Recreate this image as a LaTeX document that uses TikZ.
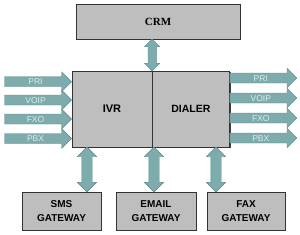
\documentclass[tikz,border=0pt]{standalone}
\usepackage{fontspec}
\setmainfont{Liberation Serif}
\setsansfont{Liberation Sans}
\usepackage{tikz}
\usepackage{xcolor}
\usetikzlibrary{shapes.arrows, shadows, positioning}

\definecolor{boxgrey}{RGB}{190,190,190}
\definecolor{pipeteal}{RGB}{126,172,172}
\definecolor{pipeedge}{RGB}{92,138,138}
\definecolor{pipetext}{RGB}{222,234,234}

\begin{document}
\begin{tikzpicture}[x=1pt, y=-1pt]
\tikzstyle{block} = [rectangle, draw=black!80, fill=boxgrey, inner sep=0pt, drop shadow={shadow xshift=1.2pt, shadow yshift=-1.2pt, fill=black!75, opacity=1}]
\tikzstyle{lineflow} = [single arrow, draw=pipeedge, fill=pipeteal, text=pipetext, font=\sffamily\fontsize{8.5}{8.5}\selectfont, text height=6pt, text depth=0pt, inner ysep=1.8pt, inner xsep=0pt, single arrow head extend=4.8pt, minimum height=67pt]
\tikzstyle{link} = [double arrow, draw=pipeedge, fill=pipeteal, rotate=90, inner sep=0pt, text height=0pt, text depth=0pt]

\useasboundingbox (0,0) rectangle (300,234);

\node [block, minimum width=164pt, minimum height=35pt, font=\rmfamily\bfseries\fontsize{11}{11}\selectfont] (crm) at (158,21.5) {CRM};
\node [block, minimum width=80pt, minimum height=76pt, font=\sffamily\bfseries\fontsize{11}{11}\selectfont] (ivr) at (112,109) {IVR};
\node [block, minimum width=77pt, minimum height=76pt, font=\sffamily\bfseries\fontsize{10.5}{10.5}\selectfont, right=0pt of ivr] (dialer) {DIALER};

\node [block, minimum width=79pt, minimum height=38pt, align=center, font=\sffamily\bfseries\fontsize{10}{13.5}\selectfont] (sms) at (61.5,211) {SMS\\GATEWAY};
\node [block, minimum width=80pt, minimum height=38pt, align=center, font=\sffamily\bfseries\fontsize{10}{13.5}\selectfont] (email) at (156,211) {EMAIL\\GATEWAY};
\node [block, minimum width=78pt, minimum height=38pt, align=center, font=\sffamily\bfseries\fontsize{10}{13.5}\selectfont] (fax) at (246,211) {FAX\\GATEWAY};

% lines coming in
\node [lineflow, anchor=tip] (priin) at (ivr.west |- 0,81.7) {PRI};
\node [lineflow, anchor=tip] (voipin) at (ivr.west |- 0,100) {VOIP};
\node [lineflow, anchor=tip] (fxoin) at (ivr.west |- 0,119) {FXO};
\node [lineflow, anchor=tip] (pbxin) at (ivr.west |- 0,138.5) {PBX};

% lines going out
\node [lineflow, anchor=west] (priout) at (dialer.east |- 0,78) {PRI};
\node [lineflow, anchor=west] (voipout) at (dialer.east |- 0,98) {VOIP};
\node [lineflow, anchor=west] (fxoout) at (dialer.east |- 0,118) {FXO};
\node [lineflow, anchor=west] (pbxout) at (dialer.east |- 0,138) {PBX};

\path (crm.south -| dialer.west) -- (dialer.north west) node [link, midway, minimum height=32pt, inner ysep=4pt, double arrow head extend=3.4pt] {};
\path (ivr.south -| 87,0) -- (sms.north -| 87,0) node [link, midway, minimum height=45pt, inner ysep=5pt, double arrow head extend=4.5pt] {};
\path (ivr.south -| 154,0) -- (email.north -| 154,0) node [link, midway, minimum height=45pt, inner ysep=5pt, double arrow head extend=4.5pt] {};
\path (dialer.south -| 216,0) -- (fax.north -| 216,0) node [link, midway, minimum height=45pt, inner ysep=5pt, double arrow head extend=4.5pt] {};

\end{tikzpicture}
\end{document}
